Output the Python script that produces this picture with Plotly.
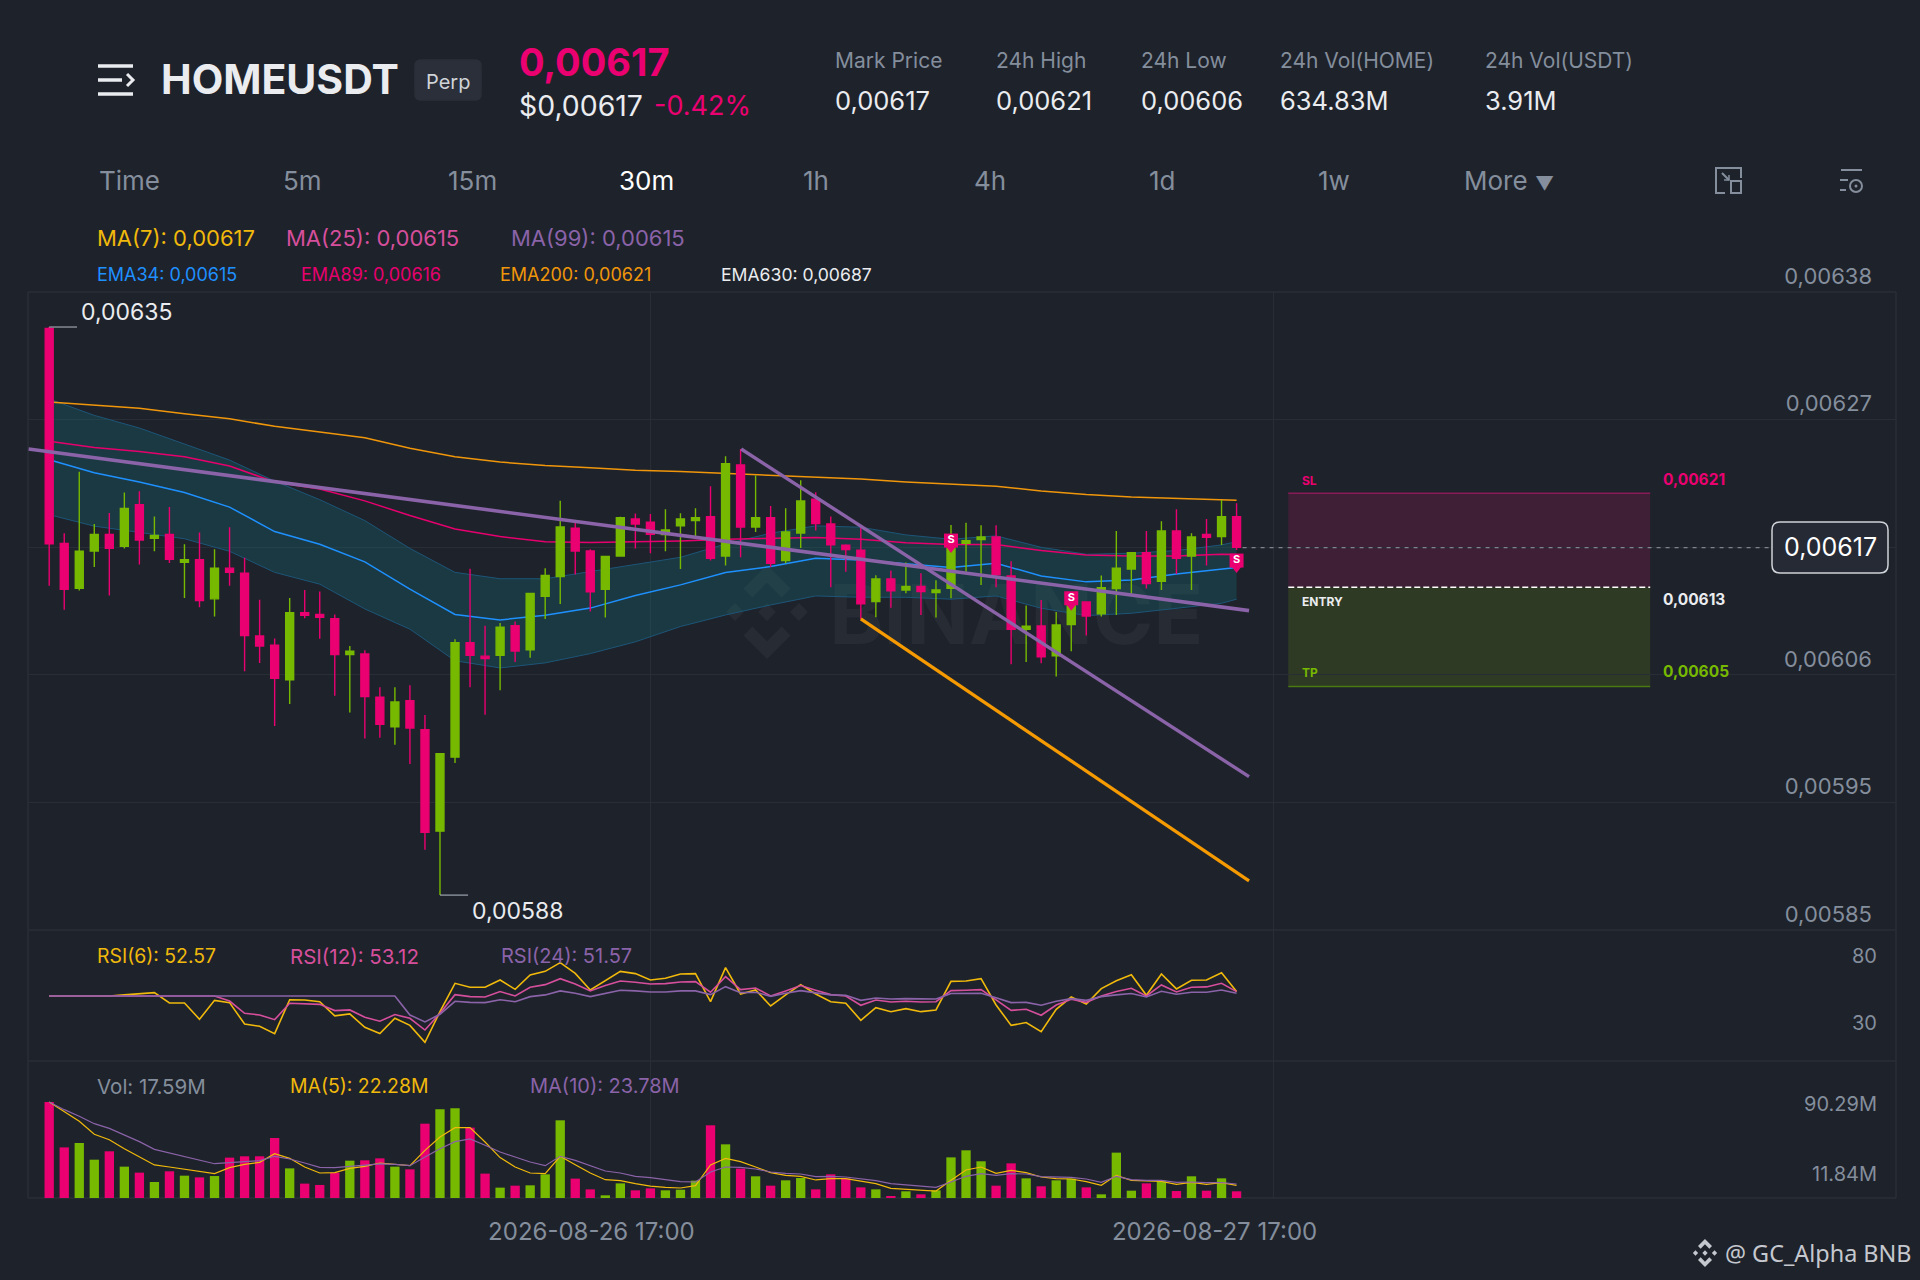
#!/usr/bin/env python3
"""HOMEUSDT 30m 合约K线截图 (Plotly 复刻)"""

import plotly.graph_objects as go

W, H = 1920, 1280
BG = "#1e222b"
RED = "#ea0070"
GREEN = "#76b900"
GREY = "#848e9c"
LIGHT = "#eaecef"
YELLOW = "#f0b90b"
ROSE = "#d64f9c"
PURPLE = "#8a63a8"
GRID = "#292d36"
FONT = "Inter, 'Noto Sans', sans-serif"

# 价格单位: 1e-5 USDT
opens = [634.98, 617.12, 613.38, 616.49, 617.85, 616.87, 620.33, 617.54, 617.85, 615.55,
         615.76, 612.51, 615.06, 614.64, 609.43, 608.66, 605.79, 611.35, 611.21, 610.86,
         607.89, 607.93, 604.33, 601.88, 604.05, 601.64, 593.21, 599.36, 608.87, 607.75,
         607.82, 610.27, 608.28, 612.72, 614.36, 618.38, 616.49, 613.31, 616.07, 619.15,
         618.87, 617.85, 618.57, 619.01, 619.34, 616.07, 623.63, 618.48, 619.26, 615.69,
         617.98, 620.78, 618.73, 616.96, 616.55, 612.28, 614.16, 613.25, 613.53, 613.03,
         613.39, 617.13, 617.43, 617.65, 614.41, 609.98, 610.26, 607.77, 610.37, 612.25,
         611.26, 613.36, 614.99, 616.35, 613.97, 618.15, 616.07, 617.85, 617.68, 619.34]
closes = [617.08, 613.31, 616.46, 617.85, 616.70, 620.02, 617.40, 617.78, 615.79, 615.76,
          612.37, 615.06, 614.71, 609.46, 608.59, 605.90, 611.35, 611.14, 610.97, 607.89,
          608.17, 604.40, 602.09, 603.94, 601.78, 593.11, 599.64, 608.87, 607.82, 607.54,
          610.16, 608.17, 612.96, 614.46, 618.48, 616.49, 613.10, 616.04, 619.25, 618.73,
          617.87, 618.23, 619.15, 619.26, 615.88, 623.74, 618.48, 619.26, 615.47, 618.07,
          620.64, 618.76, 616.99, 616.60, 612.09, 614.16, 613.17, 613.53, 613.11, 613.25,
          616.71, 617.35, 617.65, 614.50, 609.98, 610.23, 607.69, 610.34, 612.00, 611.09,
          613.44, 615.05, 616.35, 613.78, 618.15, 615.88, 617.65, 617.62, 619.34, 616.79]
highs = [635.09, 617.96, 623.06, 618.73, 619.64, 621.35, 621.45, 619.36, 620.13, 617.05,
         618.03, 616.63, 618.45, 615.93, 612.44, 609.22, 612.58, 613.24, 613.13, 611.21,
         608.59, 608.24, 605.17, 605.17, 605.34, 602.86, 599.68, 609.15, 615.02, 610.27,
         610.51, 610.62, 612.96, 615.06, 620.65, 618.80, 616.63, 616.04, 619.32, 619.60,
         619.56, 619.95, 619.62, 620.03, 621.86, 624.35, 624.96, 622.75, 620.23, 620.03,
         622.36, 621.36, 619.34, 617.04, 618.46, 614.47, 614.86, 615.52, 614.64, 614.05,
         618.65, 618.84, 618.62, 618.62, 615.63, 611.95, 612.42, 611.42, 612.97, 612.28,
         614.44, 618.15, 616.35, 618.15, 618.95, 619.95, 617.96, 619.15, 620.73, 620.45]
lows = [613.59, 611.60, 613.20, 615.16, 612.79, 616.70, 615.37, 616.46, 615.48, 612.58,
        611.81, 611.04, 613.59, 606.49, 607.19, 601.95, 603.77, 610.90, 609.19, 604.47,
        603.07, 600.90, 600.97, 600.38, 598.80, 591.67, 587.90, 598.87, 605.17, 602.89,
        604.92, 607.26, 607.61, 610.83, 612.09, 614.53, 611.46, 610.97, 616.00, 616.70,
        616.30, 616.46, 614.99, 617.49, 615.69, 615.27, 615.96, 618.07, 615.16, 615.47,
        616.74, 618.18, 613.47, 614.77, 610.84, 610.98, 611.78, 612.97, 611.17, 610.95,
        612.56, 614.77, 613.67, 613.47, 607.08, 607.27, 607.16, 606.05, 608.16, 609.46,
        611.04, 611.17, 612.86, 613.36, 613.25, 614.58, 613.25, 615.27, 616.99, 616.57]
idx = list(range(len(opens)))

# 均线采样点
ema_x = [0, 3, 6, 9, 12, 15, 18, 21, 24, 27, 30, 33, 36, 39, 42, 45, 48, 51, 54, 57, 60, 63, 66, 69, 72, 75, 78, 79]
band_up = [629.11, 627.75, 626.70, 625.37, 624.04, 622.29, 620.75, 619.01, 616.70, 614.71, 614.18, 614.18, 614.78, 615.41,
           615.96, 617.07, 617.96, 618.57, 618.46, 617.82, 617.46, 617.74, 616.79, 616.21, 616.30, 616.52, 616.99, 617.26]
band_low = [619.50, 618.55, 618.03, 617.50, 616.46, 614.71, 613.73, 611.67, 609.99, 607.37, 606.77, 607.19, 607.96, 608.94,
            610.21, 611.17, 612.00, 612.75, 612.64, 612.64, 612.48, 612.75, 611.73, 611.12, 611.31, 611.73, 612.14, 612.48]
ema34 = [624.07, 622.99, 622.22, 621.35, 620.13, 618.10, 617.05, 615.58, 613.31, 611.21, 610.76, 611.14, 611.74, 612.79,
         613.67, 614.69, 615.19, 615.88, 615.74, 615.41, 615.11, 615.47, 614.41, 613.92, 614.08, 614.58, 615.00, 615.11]
ema89 = [625.61, 625.09, 624.74, 624.32, 623.55, 622.22, 621.63, 620.65, 619.43, 618.31, 617.68, 617.26, 617.19, 617.26,
         617.32, 617.46, 617.51, 617.60, 617.46, 617.18, 617.02, 617.02, 616.52, 616.16, 616.07, 616.07, 616.21, 616.19]
ema200 = [628.86, 628.58, 628.34, 627.88, 627.47, 626.84, 626.35, 625.89, 625.02, 624.32, 623.87, 623.59, 623.41, 623.20,
          623.08, 622.94, 622.80, 622.66, 622.47, 622.22, 622.03, 621.86, 621.47, 621.17, 620.97, 620.84, 620.73, 620.70]

# 趋势线
trend_long_x, trend_long_y = [-1.37, 79.83], [624.96, 611.53]
trend_fall_x, trend_fall_y = [46.04, 79.83], [624.96, 597.74]
trend_orange_x, trend_orange_y = [54.0, 79.83], [610.84, 589.08]

# 卖出标记
sell_x = [60, 68, 79]
sell_y = [617.35, 612.56, 615.69]

# RSI
rsi6 = [50, 50, 50, 50, 50, 50.8, 51.5, 52.5, 44.7, 44.7,
        32.5, 46.7, 45.0, 28.9, 27.2, 21.7, 47.2, 47.0, 45.7, 35.0,
        36.5, 26.4, 21.7, 33.2, 27.9, 15.2, 38.2, 59.5, 56.5, 56.5,
        62.0, 55.0, 65.8, 68.5, 75.1, 67.0, 54.5, 61.5, 68.5, 66.8,
        62.0, 63.3, 66.5, 66.8, 45.7, 71.3, 51.5, 54.5, 42.5, 50.8,
        58.5, 51.5, 45.7, 44.5, 31.7, 41.2, 38.2, 40.5, 38.2, 39.5,
        61.0, 61.3, 63.0, 43.2, 27.9, 30.0, 23.2, 40.0, 49.2, 44.0,
        55.5, 61.5, 66.0, 50.5, 66.5, 55.3, 61.8, 62.0, 67.5, 53.3]
rsi12 = [50, 50, 50, 50, 50, 50, 50, 50, 50, 50,
         50, 50, 46.2, 37.0, 35.7, 32.2, 44.5, 44.2, 43.7, 39.0,
         39.5, 34.0, 31.0, 36.0, 33.2, 24.4, 37.0, 51.0, 49.5, 49.2,
         53.3, 50.0, 56.5, 58.5, 63.0, 59.0, 53.8, 57.8, 61.3, 60.3,
         59.0, 59.3, 60.5, 60.8, 52.8, 64.5, 54.8, 56.0, 50.0, 53.8,
         57.8, 54.3, 51.0, 50.0, 43.0, 47.0, 45.5, 46.0, 45.5, 45.7,
         54.0, 54.3, 54.8, 47.0, 39.2, 40.0, 35.5, 43.2, 47.5, 45.2,
         50.0, 53.3, 55.8, 50.0, 58.3, 53.0, 56.5, 56.8, 59.5, 53.3]
rsi24 = [50, 50, 50, 50, 50, 50, 50, 50, 50, 50,
         50, 50, 50, 50, 50, 50, 50, 50, 50, 50,
         50, 50, 50, 50, 35.7, 30.5, 36.2, 46.0, 45.2, 45.0,
         47.2, 45.7, 49.5, 50.8, 53.8, 52.0, 49.5, 51.8, 54.3, 53.8,
         53.0, 53.0, 53.8, 53.8, 51.0, 57.0, 52.5, 52.8, 49.7, 52.0,
         54.0, 52.3, 50.8, 50.5, 46.7, 48.5, 47.7, 48.0, 47.7, 47.7,
         51.8, 51.8, 52.0, 48.7, 45.0, 45.2, 43.0, 46.0, 48.0, 46.7,
         49.5, 50.8, 51.8, 49.2, 53.5, 51.3, 52.8, 52.8, 54.5, 52.0]

# 成交量 (M)
volumes = [107.5, 56.7, 61.6, 42.9, 52.3, 35.1, 28.4, 17.9, 29.9, 25.0,
           23.1, 24.6, 45.2, 46.7, 46.7, 67.2, 33.2, 16.1, 14.6, 28.4,
           41.8, 42.2, 44.4, 35.1, 32.1, 83.2, 99.3, 100.4, 78.8, 27.3,
           11.6, 13.8, 14.2, 26.5, 87.0, 21.7, 9.7, 3.0, 16.4, 8.6,
           10.8, 8.6, 9.3, 19.4, 81.4, 60.1, 32.9, 24.3, 13.8, 19.8,
           22.4, 9.7, 26.5, 21.7, 11.9, 9.7, 1.9, 7.5, 4.1, 8.6,
           45.5, 53.4, 41.1, 13.8, 38.8, 22.0, 13.1, 19.8, 21.7, 11.9,
           4.1, 50.8, 8.2, 16.4, 19.4, 7.8, 24.3, 8.2, 22.0, 7.5]
vol_ma5 = [107.5, 96.3, 85.9, 71.3, 65.3, 55.2, 45.9, 37.0, 34.7, 32.1,
           29.5, 27.3, 34.0, 37.7, 39.9, 49.6, 44.4, 34.7, 28.0, 28.4,
           33.2, 35.5, 39.2, 38.1, 36.2, 53.4, 68.3, 78.8, 78.8, 62.7,
           45.2, 34.7, 28.0, 27.3, 46.7, 37.3, 28.0, 20.5, 19.4, 16.1,
           13.4, 11.9, 11.2, 13.8, 37.0, 44.4, 40.7, 34.7, 28.4, 25.4,
           24.3, 20.2, 21.7, 21.7, 18.7, 16.1, 10.8, 9.7, 8.2, 7.8,
           19.8, 31.4, 34.7, 27.6, 31.0, 28.4, 23.5, 21.7, 21.3, 18.3,
           14.2, 25.4, 19.8, 19.0, 18.7, 15.3, 17.5, 15.3, 17.2, 14.2]
vol_ma10 = [107.5, 98.9, 91.5, 83.2, 78.0, 70.9, 63.1, 54.5, 50.4, 46.7,
            42.6, 38.4, 39.6, 40.7, 41.8, 46.7, 43.7, 39.2, 34.3, 34.0,
            35.1, 36.6, 38.1, 37.7, 36.2, 45.9, 55.2, 63.1, 66.1, 59.0,
            51.5, 45.9, 40.3, 36.2, 46.7, 42.2, 36.6, 30.2, 28.0, 24.3,
            22.8, 20.2, 18.3, 17.9, 29.1, 34.7, 34.3, 32.5, 29.1, 27.6,
            26.9, 23.9, 24.3, 23.5, 21.3, 19.4, 16.1, 14.6, 12.7, 11.9,
            17.9, 24.3, 27.3, 25.4, 27.3, 26.9, 23.9, 23.1, 23.1, 21.3,
            17.5, 24.3, 20.5, 19.8, 19.8, 17.5, 17.9, 17.2, 17.2, 15.7]

# 坐标轴刻度
price_ticks = [638, 627.4, 616.8, 606.2, 595.6, 585]
price_labels = ["0,00638", "0,00627", "", "0,00606", "0,00595", "0,00585"]
rsi_ticks = [80, 30]
vol_ticks = [90.29, 11.84]
vol_labels = ["90.29M", "11.84M"]
time_ticks = [40, 81.46]
time_labels = ["2026-08-26 17:00", "2026-08-27 17:00"]

# 仓位区域
last_price = 616.76
sl_price, entry_price, tp_price = 621.28, 613.47, 605.22
zone_x = [82.44, 106.52]

# 顶部文字
tabs = ["Time", "5m", "15m", "30m", "1h", "4h", "1d", "1w", "More <span style='font-size:19px'>▼</span>"]
tab_left = [99, 283, 448, 619, 803, 975, 1149, 1318, 1464]
stat_names = ["Mark Price", "24h High", "24h Low", "24h Vol(HOME)", "24h Vol(USDT)"]
stat_values = ["0,00617", "0,00621", "0,00606", "634.83M", "3.91M"]
stat_left = [835, 996, 1141, 1280, 1485]


def px(x):
    return x / W


def py(y):
    return 1 - y / H


def path_shape(points, color=None, fill=None, width=1.5, close=False, layer="above"):
    d = "M " + " L ".join(f"{px(x):.5f},{py(y):.5f}" for x, y in points)
    if close:
        d += " Z"
    return dict(type="path", xref="paper", yref="paper", path=d, layer=layer,
                fillcolor=fill or "rgba(0,0,0,0)",
                line=dict(color=color or "rgba(0,0,0,0)", width=width if color else 0))


def bnb_logo(cx, cy, r, color, layer="above"):
    parts = [
        [(0, -1), (.5, -.5), (.31, -.31), (0, -.62), (-.31, -.31), (-.5, -.5)],
        [(0, 1), (.5, .5), (.31, .31), (0, .62), (-.31, .31), (-.5, .5)],
        [(0, -.19), (.19, 0), (0, .19), (-.19, 0)],
        [(-.68, -.19), (-.49, 0), (-.68, .19), (-.87, 0)],
        [(.68, -.19), (.87, 0), (.68, .19), (.49, 0)],
    ]
    return [path_shape([(cx + a * r, cy + b * r) for a, b in p], fill=color, close=True, layer=layer)
            for p in parts]


def rounded_box(x0, y0, x1, y1, r, fill, line=None, width=1.5, layer="above"):
    d = (f"M {px(x0 + r)},{py(y0)} L {px(x1 - r)},{py(y0)} Q {px(x1)},{py(y0)} {px(x1)},{py(y0 + r)} "
         f"L {px(x1)},{py(y1 - r)} Q {px(x1)},{py(y1)} {px(x1 - r)},{py(y1)} "
         f"L {px(x0 + r)},{py(y1)} Q {px(x0)},{py(y1)} {px(x0)},{py(y1 - r)} "
         f"L {px(x0)},{py(y0 + r)} Q {px(x0)},{py(y0)} {px(x0 + r)},{py(y0)} Z")
    return dict(type="path", xref="paper", yref="paper", path=d, layer=layer, fillcolor=fill,
                line=dict(color=line or fill, width=width))


def txt(text, x, y, size, color, anchor="left", bold=False, family=FONT):
    if anchor == "left":
        x -= 2.5
    return dict(text=f"<b>{text}</b>" if bold else text, xref="paper", yref="paper", x=px(x), y=py(y),
                xanchor=anchor, yanchor="middle", showarrow=False,
                font=dict(size=size, color=color, family=family))


fig = go.Figure()

# 水印
fig.add_trace(go.Scatter(x=[51.9], y=[610.5], mode="text", text=["BINANCE"], textposition="middle right",
                         textfont=dict(size=82, color="#272b34", family=FONT, weight=700),
                         xaxis="x", yaxis="y", hoverinfo="skip", showlegend=False))

# EMA 带
fig.add_trace(go.Scatter(x=ema_x, y=band_up, mode="lines", line=dict(color="#1c5578", width=1),
                         xaxis="x", yaxis="y", showlegend=False))
fig.add_trace(go.Scatter(x=ema_x, y=band_low, mode="lines", line=dict(color="#1c5578", width=1),
                         fill="tonexty", fillcolor="rgba(23,114,120,0.3)",
                         xaxis="x", yaxis="y", showlegend=False))
fig.add_trace(go.Scatter(x=ema_x, y=ema34, mode="lines", line=dict(color="#1e90ff", width=1.5),
                         xaxis="x", yaxis="y", showlegend=False))
fig.add_trace(go.Scatter(x=ema_x, y=ema89, mode="lines", line=dict(color="#e6006e", width=1.5),
                         xaxis="x", yaxis="y", showlegend=False))
fig.add_trace(go.Scatter(x=ema_x, y=ema200, mode="lines", line=dict(color="#f0960a", width=1.5),
                         xaxis="x", yaxis="y", showlegend=False))

# K线 (叠加轴上, 盖住均线)
fig.add_trace(go.Candlestick(x=idx, open=opens, high=highs, low=lows, close=closes,
                             increasing=dict(line=dict(color=GREEN, width=1.4), fillcolor=GREEN),
                             decreasing=dict(line=dict(color=RED, width=1.4), fillcolor=RED),
                             xaxis="x", yaxis="y4", showlegend=False))

# 趋势线, 标记
fig.add_trace(go.Scatter(x=trend_long_x, y=trend_long_y, mode="lines", line=dict(color=PURPLE, width=3.6),
                         xaxis="x", yaxis="y5", showlegend=False))
fig.add_trace(go.Scatter(x=trend_fall_x, y=trend_fall_y, mode="lines", line=dict(color=PURPLE, width=3.4),
                         xaxis="x", yaxis="y5", showlegend=False))
fig.add_trace(go.Scatter(x=trend_orange_x, y=trend_orange_y, mode="lines", line=dict(color="#f59a00", width=3.3),
                         xaxis="x", yaxis="y5", showlegend=False))
fig.add_trace(go.Scatter(x=[0, 1.85], y=[max(highs)] * 2, mode="lines", line=dict(color="#b7bdc6", width=1),
                         xaxis="x", yaxis="y5", showlegend=False))
fig.add_trace(go.Scatter(x=[26, 27.87], y=[min(lows)] * 2, mode="lines", line=dict(color="#b7bdc6", width=1),
                         xaxis="x", yaxis="y5", showlegend=False))
fig.add_trace(go.Scatter(x=[79.4, 114.6], y=[last_price] * 2, mode="lines",
                         line=dict(color="#7f838c", width=1.3, dash="4px,5px"),
                         xaxis="x", yaxis="y5", showlegend=False))
fig.add_trace(go.Scatter(x=zone_x, y=[entry_price] * 2, mode="lines",
                         line=dict(color="#ffffff", width=1.5, dash="6px,3px"),
                         xaxis="x", yaxis="y5", showlegend=False))
fig.add_trace(go.Scatter(x=sell_x, y=[v - 0.62 for v in sell_y], mode="markers",
                         marker=dict(symbol="triangle-down", size=10, color=RED),
                         xaxis="x", yaxis="y5", showlegend=False))
fig.add_trace(go.Scatter(x=sell_x, y=sell_y, mode="markers+text", text=["S"] * 3, textposition="middle center",
                         textfont=dict(size=11, color="white", family=FONT, weight=700),
                         marker=dict(symbol="square", size=14, color=RED),
                         xaxis="x", yaxis="y5", showlegend=False))

# RSI
fig.add_trace(go.Scatter(x=idx, y=rsi6, mode="lines", line=dict(color=YELLOW, width=1.6),
                         xaxis="x2", yaxis="y2", showlegend=False))
fig.add_trace(go.Scatter(x=idx, y=rsi12, mode="lines", line=dict(color=ROSE, width=1.6),
                         xaxis="x2", yaxis="y2", showlegend=False))
fig.add_trace(go.Scatter(x=idx, y=rsi24, mode="lines", line=dict(color=PURPLE, width=1.6),
                         xaxis="x2", yaxis="y2", showlegend=False))

# 成交量
vol_colors = [GREEN if c >= o else RED for o, c in zip(opens, closes)]
fig.add_trace(go.Bar(x=idx, y=volumes, marker=dict(color=vol_colors, line=dict(width=0)), width=0.62,
                     xaxis="x3", yaxis="y3", showlegend=False))
fig.add_trace(go.Scatter(x=idx, y=vol_ma5, mode="lines", line=dict(color=YELLOW, width=1.2),
                         xaxis="x3", yaxis="y3", showlegend=False))
fig.add_trace(go.Scatter(x=idx, y=vol_ma10, mode="lines", line=dict(color=PURPLE, width=1.2),
                         xaxis="x3", yaxis="y3", showlegend=False))

x_range = [(28 - 49.2) / 15.03, (1896 - 49.2) / 15.03]
x_domain = [px(28), px(1896)]
x_common = dict(range=x_range, domain=x_domain, tickmode="array", tickvals=time_ticks, showgrid=True,
                gridcolor=GRID, gridwidth=1, zeroline=False, showline=False, ticks="")
y_hidden = dict(visible=False, overlaying="y", range=[585, 638], anchor="x",
                domain=[py(930), py(292)])

shapes = []
# 面板边框
for y in (292, 930, 1061, 1198):
    shapes.append(path_shape([(28, y), (1896, y)], color="#2a2e37", width=1.5, layer="below"))
for x in (28, 1896):
    shapes.append(path_shape([(x, 292), (x, 1198)], color="#2a2e37", width=1.5, layer="below"))

# 水印图标
shapes += bnb_logo(767, 612, 47, "#272b34", layer="below")

# 仓位区域
shapes.append(dict(type="rect", xref="x", yref="y", x0=zone_x[0], x1=zone_x[1], y0=entry_price, y1=sl_price,
                   fillcolor="#3e1f36", line=dict(width=0), layer="below"))
shapes.append(dict(type="rect", xref="x", yref="y", x0=zone_x[0], x1=zone_x[1], y0=tp_price, y1=entry_price,
                   fillcolor="#2f3a24", line=dict(width=0), layer="below"))
shapes.append(dict(type="line", xref="x", yref="y", x0=zone_x[0], x1=zone_x[1], y0=sl_price, y1=sl_price,
                   line=dict(color="#8a1a58", width=1.5)))
shapes.append(dict(type="line", xref="x", yref="y", x0=zone_x[0], x1=zone_x[1], y0=tp_price, y1=tp_price,
                   line=dict(color="#4a7a10", width=1.5)))

# 现价框
shapes.append(rounded_box(1772, 522, 1888, 573, 8, "#262a35", line="#d0d3d8", width=1.5))

# 左上菜单图标
shapes.append(path_shape([(98, 66), (133, 66)], color=LIGHT, width=3.5))
shapes.append(path_shape([(98, 80), (122, 80)], color=LIGHT, width=3.5))
shapes.append(path_shape([(98, 94), (133, 94)], color=LIGHT, width=3.5))
shapes.append(path_shape([(127, 74), (133, 80), (127, 86)], color=LIGHT, width=3))
# Perp 标签
shapes.append(rounded_box(415, 60, 481, 100, 6, "#2b2f39"))

# 全屏图标
shapes.append(path_shape([(1725, 193), (1716, 193), (1716, 168), (1741, 168), (1741, 178)], color=GREY, width=2))
shapes.append(path_shape([(1731, 181), (1741, 181), (1741, 193), (1731, 193)], color=GREY, width=2, close=True))
shapes.append(path_shape([(1722, 173), (1729, 180)], color=GREY, width=2))
shapes.append(path_shape([(1729, 175), (1729, 180), (1724, 180)], color=GREY, width=1.5))
# 设置图标
shapes.append(path_shape([(1841, 170), (1862, 170)], color=GREY, width=2))
shapes.append(path_shape([(1840, 180), (1848, 180)], color=GREY, width=2))
shapes.append(path_shape([(1840, 190), (1846, 190)], color=GREY, width=2))
shapes.append(dict(type="circle", xref="paper", yref="paper", x0=px(1850), x1=px(1862), y0=py(192), y1=py(180),
                   line=dict(color=GREY, width=2)))
shapes.append(dict(type="circle", xref="paper", yref="paper", x0=px(1854.5), x1=px(1857.5), y0=py(187.5),
                   y1=py(184.5), fillcolor=GREY, line=dict(width=0)))

# 右下角水印
shapes += bnb_logo(1705, 1253, 14, "#c5c8ce")

notes = [
    txt("HOMEUSDT", 161, 79, 41, LIGHT, bold=True),
    txt("Perp", 448, 82, 20, "#d0d3d8", anchor="center"),
    txt("0,00617", 519, 62, 38, RED, bold=True),
    txt("$0,00617", 519, 106, 28.4, LIGHT),
    txt("-0.42%", 654, 106, 27, RED),
    txt("MA(7): 0,00617", 97, 238, 22, YELLOW),
    txt("MA(25): 0,00615", 286, 238, 22, ROSE),
    txt("MA(99): 0,00615", 511, 238, 22, PURPLE),
    txt("EMA34: 0,00615", 97, 274, 18, "#1e90ff"),
    txt("EMA89: 0,00616", 301, 274, 18, "#e6006e"),
    txt("EMA200: 0,00621", 500, 274, 18, "#f0960a"),
    txt("EMA630: 0,00687", 721, 274, 17.6, LIGHT),
    txt("0,00635", 81, 312, 23, LIGHT),
    txt("0,00588", 472, 911, 23, LIGHT),
    txt("SL", 1302, 481, 12, RED, bold=True),
    txt("ENTRY", 1302, 601, 12, LIGHT, bold=True),
    txt("TP", 1302, 672, 12, GREEN, bold=True),
    txt("0,00621", 1663, 479.5, 15.5, RED, bold=True),
    txt("0,00613", 1663, 599.5, 15.5, LIGHT, bold=True),
    txt("0,00605", 1663, 671, 15.5, GREEN, bold=True),
    txt("0,00617", 1830, 547, 25, "#ffffff", anchor="center"),
    txt("RSI(6): 52.57", 97, 956, 19.4, YELLOW),
    txt("RSI(12): 53.12", 290, 956, 20.5, ROSE),
    txt("RSI(24): 51.57", 501, 956, 20, PURPLE),
    txt("Vol: 17.59M", 97, 1086, 20.5, GREY),
    txt("MA(5): 22.28M", 290, 1086, 19.4, YELLOW),
    txt("MA(10): 23.78M", 530, 1086, 20, PURPLE),
    txt("@ GC_Alpha BNB", 1725, 1253, 23.4, "#c5c8ce", family="'Noto Sans', sans-serif"),
]
for t, x in zip(tabs, tab_left):
    notes.append(txt(t, x, 181, 26, "#ffffff" if t == "30m" else GREY))
for name, val, x in zip(stat_names, stat_values, stat_left):
    notes.append(txt(name, x, 61, 21, GREY))
    notes.append(txt(val, x, 100, 25.5, LIGHT))

fig.update_layout(
    width=W, height=H, autosize=False,
    margin=dict(l=0, r=0, t=0, b=0, autoexpand=False),
    paper_bgcolor=BG, plot_bgcolor="rgba(0,0,0,0)",
    font=dict(family=FONT, color=GREY),
    showlegend=False, boxgap=0.47, boxgroupgap=0, bargap=0.38,
    hovermode=False,
    xaxis=dict(x_common, anchor="y", showticklabels=False, rangeslider=dict(visible=False)),
    xaxis2=dict(x_common, anchor="y2", showticklabels=False),
    xaxis3=dict(x_common, anchor="y3", showticklabels=True, ticktext=time_labels,
                tickfont=dict(size=24, color=GREY, family=FONT), ticklabelshift=-59, ticklabelstandoff=17),
    yaxis=dict(domain=[py(930), py(292)], range=[585, 638], anchor="free", position=px(1872), side="left",
               tickmode="array", tickvals=price_ticks, ticktext=price_labels, ticks="",
               tickfont=dict(size=22, color=GREY, family=FONT), ticklabelshift=-16,
               showgrid=True, gridcolor=GRID, gridwidth=1, zeroline=False, showline=False),
    yaxis2=dict(domain=[py(1061), py(930)], range=[1.1, 99.6], anchor="free", position=px(1877), side="left",
                tickmode="array", tickvals=rsi_ticks, ticktext=[str(v) for v in rsi_ticks], ticks="",
                tickfont=dict(size=20, color=GREY, family=FONT),
                showgrid=False, zeroline=False, showline=False),
    yaxis3=dict(domain=[py(1198), py(1061)], range=[0, 153.4], anchor="free", position=px(1877), side="left",
                tickmode="array", tickvals=vol_ticks, ticktext=vol_labels, ticks="",
                tickfont=dict(size=20, color=GREY, family=FONT), ticklabelshift=-13,
                showgrid=False, zeroline=False, showline=False),
    yaxis4=y_hidden,
    yaxis5=y_hidden,
    shapes=shapes,
    annotations=notes,
)

fig.write_html("out.html", config={"displayModeBar": False},
               post_script="document.body.style.margin='0';document.body.style.background='#1e222b';")
